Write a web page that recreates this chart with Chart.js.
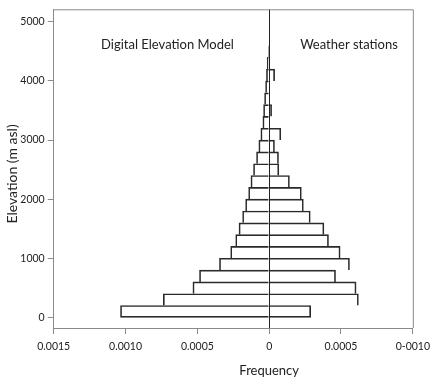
<!DOCTYPE html>
<html>
<head>
<meta charset="utf-8">
<script src="https://cdn.jsdelivr.net/npm/chart.js@4.4.1/dist/chart.umd.min.js"></script>
<style>
html,body{margin:0;padding:0;background:#fff;}
canvas{display:block;}
</style>
</head>
<body>
<canvas id="c" width="436" height="385"></canvas>
<script>
// Elevation bin centres (m asl), 200 m bins
const binCentres = [100,300,500,700,900,1100,1300,1500,1700,1900,2100,2300,2500,2700,2900,3100,3300,3500,3700,3900,4100,4300,4500];
// Digital Elevation Model frequency (plotted to the left)
const demFreq = [0.001035,0.000737,0.000531,0.000485,0.000346,0.000268,0.000233,0.000210,0.000185,0.000164,0.000143,0.000127,0.000109,0.000088,0.000072,0.000058,0.000044,0.000039,0.000032,0.000025,0.000019,0.000014,0.000005];
// Weather stations frequency (plotted to the right)
const stationFreq = [0.000289,0.000621,0.000605,0.000462,0.000559,0.000494,0.000413,0.000381,0.000286,0.000238,0.000224,0.000141,0.000067,0.000065,0.000037,0.000081,null,0.000017,null,null,0.000038,null,null];
// Axis ticks
const xTickValues = [-0.0015,-0.0010,-0.0005,0,0.0005,0.0010];
const xTickLabels = ['0.0015','0.0010','0.0005','0','0.0005','0-0010'];
const yTickValues = [0,1000,2000,3000,4000,5000];

const FONT = 'Lato, "Open Sans", "Liberation Sans", sans-serif';
const BAR = '#2a2a2a';
const AXIS = '#8a8a8a';

const demData = binCentres.map((y,i)=>({y:y, x: demFreq[i]==null?null:-demFreq[i]}));
const stData = binCentres.map((y,i)=>({y:y, x: stationFreq[i]}));

function bw(side){
  return ctx => ({
    top: 1,
    bottom: ctx.dataIndex === 0 ? 1 : 0,
    left: side === 'left' ? 1 : 0,
    right: side === 'right' ? 1 : 0
  });
}

const textPlugin = {
  id: 'texts',
  afterDraw(chart){
    const c = chart.ctx, a = chart.chartArea;
    c.save();
    c.strokeStyle = AXIS;
    c.lineWidth = 1;
    c.beginPath();
    c.moveTo(a.left, a.top + 0.5);
    c.lineTo(a.right + 0.5, a.top + 0.5);
    c.lineTo(a.right + 0.5, a.bottom);
    c.stroke();
    c.fillStyle = '#222';
    c.textAlign = 'center';
    c.textBaseline = 'middle';
    c.font = '13px ' + FONT;
    c.fillText('Digital Elevation Model', 167.5, 44.5);
    c.fillText('Weather stations', 349, 44.5);
    c.fillText('Frequency', chart.scales.x.getPixelForValue(0), 371);
    c.font = '14px ' + FONT;
    c.translate(12, 174);
    c.rotate(-Math.PI/2);
    c.fillText('Elevation (m asl)', 0, 0);
    c.restore();
  }
};

new Chart(document.getElementById('c'), {
  type: 'bar',
  data: {
    datasets: [
      {label:'Digital Elevation Model', data: demData, grouped:false, backgroundColor:'rgba(0,0,0,0)', borderColor:BAR, borderSkipped:false, borderWidth:bw('left'), categoryPercentage:1, barPercentage:1},
      {label:'Weather stations', data: stData, grouped:false, backgroundColor:'rgba(0,0,0,0)', borderColor:BAR, borderSkipped:false, borderWidth:bw('right'), categoryPercentage:1, barPercentage:1}
    ]
  },
  options: {
    indexAxis: 'y',
    responsive: false,
    devicePixelRatio: 1,
    animation: false,
    layout: { padding: { left: 0, right: 18.7, top: 7, bottom: 0 } },
    plugins: { legend: {display:false}, tooltip: {enabled:false} },
    scales: {
      x: {
        type: 'linear',
        min: -0.0015, max: 0.0010,
        afterBuildTicks: s => { s.ticks = xTickValues.map(v=>({value:v})); },
        afterFit: s => { s.height = 57; },
        border: { display: true, color: AXIS, width: 1 },
        grid: {
          drawOnChartArea: true,
          color: ctx => (ctx.tick && ctx.tick.value === 0) ? '#222' : 'rgba(0,0,0,0)',
          tickColor: AXIS,
          tickLength: 6,
          lineWidth: 1
        },
        ticks: {
          color: '#222',
          font: { family: FONT, size: 10.5 },
          padding: 6,
          maxRotation: 0,
          autoSkip: false,
          callback: (v, i) => xTickLabels[i]
        }
      },
      y: {
        type: 'linear',
        offset: false,
        min: -180, max: 5213,
        afterBuildTicks: s => { s.ticks = yTickValues.map(v=>({value:v})); },
        afterFit: s => { s.width = 53.7; },
        border: { display: true, color: AXIS, width: 1 },
        grid: { offset: false, drawOnChartArea: false, tickColor: AXIS, tickLength: 6 },
        ticks: {
          color: '#222',
          font: { family: FONT, size: 10.5 },
          padding: 3,
          autoSkip: false,
          callback: v => String(v)
        }
      }
    }
  },
  plugins: [textPlugin]
});
</script>
</body>
</html>
